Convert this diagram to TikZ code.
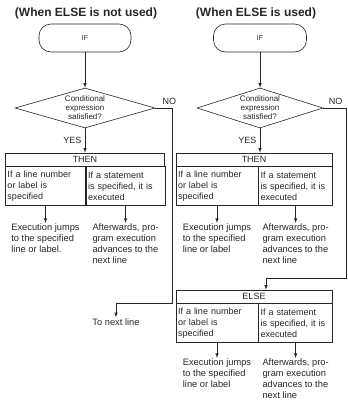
\documentclass[tikz,border=0pt]{standalone}
\usepackage{fontspec}
\setmainfont{Liberation Sans}
\usetikzlibrary{arrows,positioning,shapes.geometric}

\begin{document}
\begin{tikzpicture}[x=1pt, y=-1pt, >=latex, line width=0.6pt, color=black!85,
  ttl/.style={font=\bfseries\fontsize{12}{14}\selectfont},
  term/.style={draw, rounded corners=12pt, minimum width=92pt, minimum height=28pt, font=\fontsize{7}{8}\selectfont},
  cond/.style={draw, diamond, aspect=3, inner sep=0pt, minimum width=#1, minimum height=40pt, align=center, font=\fontsize{8}{9}\selectfont},
  hdr/.style={draw, minimum width=#1, minimum height=13pt, inner sep=0pt, font=\fontsize{9}{10}\selectfont},
  cell/.style={draw, anchor=north west, text width=#1, minimum height=39pt, inner sep=2pt, align=left, font=\fontsize{9}{11}\selectfont},
  note/.style={align=left, inner sep=1pt, font=\fontsize{9.3}{11}\selectfont},
  lbl/.style={font=\fontsize{9}{10}\selectfont}]
  \useasboundingbox (0,0) rectangle (348,408);

  % left: ELSE not used
  \node[ttl] (ttl1) at (86,13) {(When ELSE is not used)};
  \node[term] (if1) at (85,38) {IF};
  \node[cond=140pt] (dia1) at (85,108) {Conditional\\expression\\satisfied?};
  \node[hdr=159pt] (thenH1) at (85,159.5) {THEN};
  \node[cell=76pt] (thenL1) at (thenH1.south west) {If a line number\\or label is\\specified};
  \node[cell=75pt] (thenR1) at (thenL1.north east) {If a statement\\is specified, it is\\executed};
  \node[note, below=17pt of thenL1] (outL1) {Execution jumps\\to the specified\\line or label.};
  \node[note, below=17pt of thenR1] (outR1) {Afterwards, pro-\\gram execution\\advances to the\\next line};
  \coordinate (noL1) at (172,303);
  \coordinate (nextIn) at (116,303);
  \node[note] (next) at (116,322) {To next line};

  % right: ELSE used
  \node[ttl] (ttl2) at (256,13) {(When ELSE is used)};
  \node[term, minimum width=93pt] (if2) at (260,38) {IF};
  \node[cond=126pt] (dia2) at (260,108) {Conditional\\expression\\satisfied?};
  \node[hdr=156pt] (thenH2) at (254,159.5) {THEN};
  \node[cell=78pt] (thenL2) at (thenH2.south west) {If a line number\\or label is\\specified};
  \node[cell=70pt] (thenR2) at (thenL2.north east) {If a statement\\is specified, it is\\executed};
  \node[note, below=17pt of thenL2] (outL2) {Execution jumps\\to the specified\\line or label};
  \node[note, below=17pt of thenR2] (outR2) {Afterwards, pro-\\gram execution\\advances to the\\next line};
  \node[hdr=156pt] (elseH2) at (254,296.5) {ELSE};
  \node[cell=78pt] (elseL2) at (elseH2.south west) {If a line number\\or label is\\specified};
  \node[cell=70pt] (elseR2) at (elseL2.north east) {If a statement\\is specified, it is\\executed};
  \node[note, below=15pt of elseL2] (outL3) {Execution jumps\\to the specified\\line or label};
  \node[note, below=15pt of elseR2] (outR3) {Afterwards, pro-\\gram execution\\advances to the\\next line};
  \coordinate (noR2) at (346,278);
  \coordinate (elseIn) at (266,278);

  \path[->]
  (if1) edge (dia1)
  (dia1) edge node[left, lbl] {YES} (thenH1)
  (thenL1) edge (outL1)
  (thenR1) edge (outR1)
  (if2) edge (dia2)
  (dia2.south) edge node[left, lbl] {YES} (dia2.south |- thenH2.north)
  (thenL2) edge (outL2)
  (thenR2) edge (outR2)
  (elseL2) edge (outL3)
  (elseR2) edge (outR3)
  ;
  \draw[->] (dia1.east) -| (noL1) node[lbl, above, pos=0.42] {NO} -- (nextIn) -- (next);
  \draw[->] (dia2.east) -| (noR2) node[lbl, above left, pos=0.5] {NO} -- (elseIn) -- (elseIn |- elseH2.north);
\end{tikzpicture}
\end{document}
